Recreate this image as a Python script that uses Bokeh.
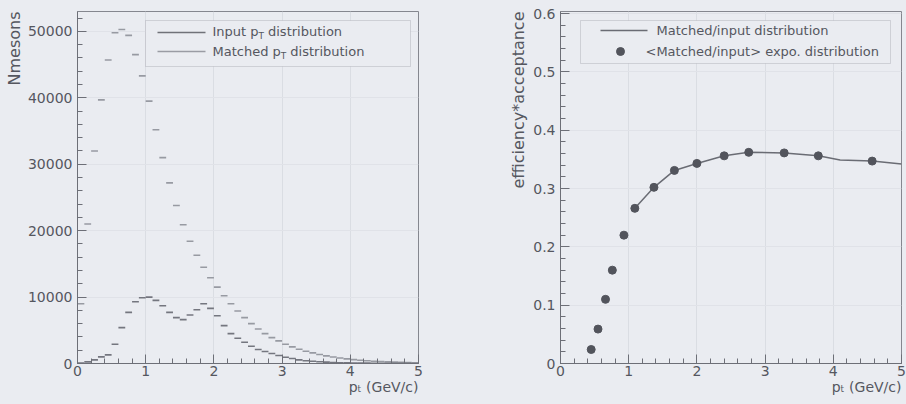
from bokeh.plotting import figure
from bokeh.layouts import row
from bokeh.models import FixedTicker, Label, BoxAnnotation, Range1d, Title
from bokeh.embed import file_html
from bokeh.resources import INLINE

# ---------------- data ----------------
bin_lo = [0.0, 0.1, 0.2, 0.3, 0.4, 0.5, 0.6, 0.7, 0.8, 0.9,
          1.0, 1.1, 1.2, 1.3, 1.4, 1.5, 1.6, 1.7, 1.8, 1.9,
          2.0, 2.1, 2.2, 2.3, 2.4, 2.5, 2.6, 2.7, 2.8, 2.9,
          3.0, 3.1, 3.2, 3.3, 3.4, 3.5, 3.6, 3.7, 3.8, 3.9,
          4.0, 4.1, 4.2, 4.3, 4.4, 4.5, 4.6, 4.7, 4.8, 4.9]
bin_width = 0.1
input_counts = [9000, 21000, 32000, 39700, 45700, 49800, 50300, 49400, 46500, 43300,
                39500, 35200, 31000, 27200, 23800, 20900, 18400, 16300, 14500, 12900,
                11500, 10200, 9000, 7900, 6900, 6000, 5200, 4500, 3900, 3400,
                2900, 2500, 2150, 1850, 1600, 1350, 1150, 980, 830, 700,
                590, 500, 420, 350, 295, 250, 210, 175, 145, 120]
matched_counts = [60, 250, 550, 1000, 1300, 2900, 5400, 7700, 9300, 9900,
                  10000, 9500, 8700, 7700, 6900, 6600, 7300, 8100, 9000, 8300,
                  7200, 5700, 4500, 3800, 3200, 2600, 2100, 1800, 1500, 1200,
                  950, 750, 550, 420, 330, 260, 200, 160, 120, 100,
                  80, 60, 50, 40, 30, 25, 20, 15, 12, 10]

eff_pt = [0.45, 0.55, 0.66, 0.76, 0.93, 1.09, 1.37, 1.67, 2.0, 2.4, 2.76, 3.28, 3.78, 4.57]
eff_val = [0.024, 0.059, 0.11, 0.16, 0.22, 0.266, 0.302, 0.331, 0.343, 0.356, 0.362, 0.361, 0.356, 0.347]

ratio_pt = [1.09, 1.37, 1.67, 2.0, 2.4, 2.76, 3.28, 3.78, 4.1, 4.57, 5.0]
ratio_val = [0.266, 0.302, 0.331, 0.343, 0.356, 0.362, 0.361, 0.356, 0.349, 0.347, 0.342]

left_yticks = [0, 10000, 20000, 30000, 40000, 50000]
left_yticklabels = ["0", "10000", "20000", "30000", "40000", "50000"]
right_yticks = [0, 0.1, 0.2, 0.3, 0.4, 0.5, 0.6]
right_yticklabels = ["0", "0.1", "0.2", "0.3", "0.4", "0.5", "0.6"]
xticks = [0, 1, 2, 3, 4, 5]
xticklabels = ["0", "1", "2", "3", "4", "5"]

left_legend = ["Input p", "Matched p"]
right_legend = ["Matched/input distribution", "<Matched/input> expo. distribution"]
x_title = "p\u209c (GeV/c)"
left_y_title = "Nmesons"
right_y_title = "efficiency*acceptance"

# ---------------- style ----------------
BG = "#eaecf1"
AX = "#6d6f77"
TXT = "#55575f"
FONT = "DejaVu Sans"
FW, FH = 341, 352
TOP = 11
BOTTOM = 41
LYMAX = 53000
RYMAX = 0.6 * 352 / 350.0


def style(p, yt, ytl, ymax):
    xminor = [i * 0.2 for i in range(26)]
    ystep = yt[1] / 5.0
    yminor = [ystep * i for i in range(int(ymax / ystep) + 1)]
    p.xaxis.ticker = FixedTicker(ticks=xticks, minor_ticks=xminor)
    p.yaxis.ticker = FixedTicker(ticks=yt, minor_ticks=yminor)
    p.xaxis.major_label_overrides = {v: s for v, s in zip(xticks, xticklabels)}
    p.yaxis.major_label_overrides = {v: s for v, s in zip(yt, ytl)}
    for ax in (p.xaxis[0], p.yaxis[0]):
        ax.axis_line_color = AX
        ax.major_tick_line_color = AX
        ax.minor_tick_line_color = AX
        ax.major_tick_in = 9
        ax.major_tick_out = 0
        ax.minor_tick_in = 5
        ax.minor_tick_out = 0
        ax.major_label_text_font = FONT
        ax.major_label_text_font_size = "14px"
        ax.major_label_text_color = TXT
    p.yaxis.major_label_standoff = 5
    p.xaxis.major_label_standoff = 2
    p.xgrid.ticker = FixedTicker(ticks=xticks)
    p.ygrid.ticker = FixedTicker(ticks=yt)
    p.xgrid.grid_line_color = "#dadde3"
    p.ygrid.grid_line_color = "#e0e2e8"
    p.outline_line_color = "#85878f"
    p.outline_line_width = 1


def titles(p, ytext, ystandoff):
    p.add_layout(Title(text=x_title, align="right", text_font=FONT, text_font_size="14px",
                       text_font_style="normal", text_color=TXT, standoff=-4), "below")
    p.add_layout(Title(text=ytext, align="right", text_font=FONT, text_font_size="16px",
                       text_font_style="normal", text_color=TXT, standoff=ystandoff), "left")


def sub_label(p, x, y, parts):
    for text, off, sz, dy in parts:
        p.add_layout(Label(x=x, y=y, x_offset=off, y_offset=dy, text=text,
                           text_font=FONT, text_font_size=f"{sz}px", text_color=TXT,
                           text_baseline="middle", text_align="left"))


# reference-pixel helpers (layout only)
def lx(px):
    return (px - 77) / 341.0 * 5


def ly(py):
    return (363 - py) / 352.0 * LYMAX


def rx(px):
    return (px - 560) / 341.0 * 5


def ry(py):
    return (363 - py) / 352.0 * RYMAX


# ---------------- left panel ----------------
p1 = figure(frame_width=FW, frame_height=FH, min_border_left=77, min_border_right=48,
            min_border_top=TOP, min_border_bottom=BOTTOM, x_range=Range1d(0, 5),
            y_range=Range1d(0, LYMAX), output_backend="svg", toolbar_location=None,
            background_fill_color=BG, border_fill_color=BG)
style(p1, left_yticks, left_yticklabels, LYMAX)
titles(p1, left_y_title, 2)

bin_hi = [b + bin_width for b in bin_lo]
p1.segment(x0=bin_lo, x1=bin_hi, y0=input_counts, y1=input_counts,
           line_color="#979aa2", line_width=1.6)
p1.segment(x0=bin_lo, x1=bin_hi, y0=matched_counts, y1=matched_counts,
           line_color="#74767f", line_width=1.6)

p1.add_layout(BoxAnnotation(left=lx(145), right=lx(410), bottom=ly(66), top=ly(20),
                            fill_color=BG, fill_alpha=1, line_color="#8d8f97",
                            line_width=1, level="underlay"))
p1.line(x=[lx(157), lx(205)], y=[ly(32), ly(32)], line_color="#707279", line_width=1.3)
p1.line(x=[lx(157), lx(205)], y=[ly(51), ly(51)], line_color="#9a9ca4", line_width=1.3)
sub_label(p1, lx(212), ly(31), [(left_legend[0], 0, 13, 0), ("T", 46, 9, -4),
                                  ("distribution", 55.5, 13, 0)])
sub_label(p1, lx(212), ly(51), [(left_legend[1], 0, 13, 0), ("T", 68.3, 9, -4),
                                  ("distribution", 77.8, 13, 0)])

# ---------------- right panel ----------------
p2 = figure(frame_width=FW, frame_height=FH, min_border_left=94, min_border_right=5,
            min_border_top=TOP, min_border_bottom=BOTTOM, x_range=Range1d(0, 5),
            y_range=Range1d(0, RYMAX), output_backend="svg", toolbar_location=None,
            background_fill_color=BG, border_fill_color=BG)
style(p2, right_yticks, right_yticklabels, 0.6)
titles(p2, right_y_title, 5)

p2.line(x=ratio_pt, y=ratio_val, line_color="#6a6c74", line_width=1.5)
p2.scatter(x=eff_pt, y=eff_val, size=8, marker="circle", fill_color="#52545c",
           line_color="#52545c")

p2.add_layout(BoxAnnotation(left=rx(580), right=rx(890), bottom=ry(63), top=ry(20),
                            fill_color=BG, fill_alpha=1, line_color="#8d8f97",
                            line_width=1, level="underlay"))
p2.line(x=[rx(600), rx(647)], y=[ry(30), ry(30)], line_color="#6a6c74", line_width=1.3)
p2.scatter(x=[rx(620)], y=[ry(51)], size=8, marker="circle", fill_color="#52545c",
           line_color="#52545c")
p2.add_layout(Label(x=rx(656), y=ry(30), text=right_legend[0], text_font=FONT,
                    text_font_size="13px", text_color=TXT, text_baseline="middle"))
p2.add_layout(Label(x=rx(645), y=ry(51), text=right_legend[1], text_font=FONT,
                    text_font_size="13px", text_color=TXT, text_baseline="middle"))

layout = row(p1, p2, spacing=0)
html = file_html(layout, INLINE)
html = html.replace("</head>",
                    "<style>html,body{margin:0;padding:0;background:#eaecf1;overflow:hidden;}</style></head>", 1)
open("out.html", "w").write(html)
